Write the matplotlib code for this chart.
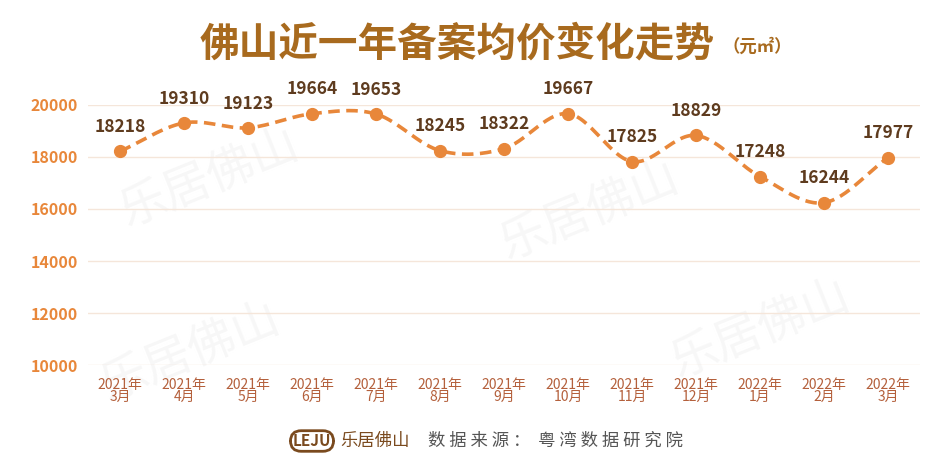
import matplotlib
matplotlib.use('Agg')
import matplotlib.pyplot as plt
import numpy as np

plt.rcParams['font.family'] = ['Noto Sans CJK SC', 'DejaVu Sans']

# data
months = ['2021年\n3月', '2021年\n4月', '2021年\n5月', '2021年\n6月', '2021年\n7月',
          '2021年\n8月', '2021年\n9月', '2021年\n10月', '2021年\n11月', '2021年\n12月',
          '2022年\n1月', '2022年\n2月', '2022年\n3月']
prices = [18218, 19310, 19123, 19664, 19653, 18245, 18322, 19667, 17825, 18829,
          17248, 16244, 17977]
y_ticks = [10000, 12000, 14000, 16000, 18000, 20000]

ORANGE = '#E8873A'
TITLE_BROWN = '#A86A1E'
LABEL_BROWN = '#5E3B1E'
XTICK_COLOR = '#B4603C'
GRID = '#F5E6DA'


def catmull_rom(x, y, n=30):
    """Smooth curve through the points (like office 'smoothed line')."""
    px = np.concatenate([[2 * x[0] - x[1]], x, [2 * x[-1] - x[-2]]])
    py = np.concatenate([[2 * y[0] - y[1]], y, [2 * y[-1] - y[-2]]])
    xs, ys = [], []
    t = np.linspace(0, 1, n, endpoint=False)
    for i in range(1, len(px) - 2):
        for arr, out in ((px, xs), (py, ys)):
            p0, p1, p2, p3 = arr[i - 1], arr[i], arr[i + 1], arr[i + 2]
            out.extend(0.5 * (2 * p1 + (-p0 + p2) * t
                              + (2 * p0 - 5 * p1 + 4 * p2 - p3) * t ** 2
                              + (-p0 + 3 * p1 - 3 * p2 + p3) * t ** 3))
    xs.append(x[-1])
    ys.append(y[-1])
    return np.array(xs), np.array(ys)


fig = plt.figure(figsize=(9.5, 4.7), dpi=100)
fig.patch.set_facecolor('white')

# faint watermarks, kept behind everything
for (wx, wy, s) in [(0.22, 0.62, '乐居佛山'), (0.62, 0.55, '乐居佛山'),
                    (0.2, 0.25, '乐居佛山'), (0.8, 0.3, '乐居佛山')]:
    fig.text(wx, wy, s, fontsize=34, color='#F7F7F7', rotation=22,
             ha='center', va='center', zorder=-5)

ax = fig.add_axes([88 / 950, 1 - 365 / 470, (920 - 88) / 950, 260 / 470])
ax.set_facecolor('none')
x = np.arange(len(prices))
ax.set_xlim(-0.5, len(prices) - 0.5)
ax.set_ylim(10000, 20000)

sx, sy = catmull_rom(x.astype(float), np.array(prices, dtype=float))
ax.plot(sx, sy, color=ORANGE, lw=2.6, ls=(0, (3.2, 1.8)), clip_on=False, zorder=3)
ax.plot(x, prices, 'o', color=ORANGE, ms=8.5, clip_on=False, zorder=4)

for xi, v in zip(x, prices):
    ax.annotate(f'{v}', (xi, v), xytext=(0, 11), textcoords='offset points',
                ha='center', va='bottom', fontsize=12.5, fontweight='bold',
                color=LABEL_BROWN, zorder=5)

ax.set_yticks(y_ticks)
ax.set_yticklabels([str(t) for t in y_ticks], fontsize=11.5, fontweight='bold', color=ORANGE)
ax.set_xticks(x)
ax.set_xticklabels(months, fontsize=10, color=XTICK_COLOR, linespacing=0.9)
ax.tick_params(length=0, pad=7)
ax.tick_params(axis='x', pad=9)
ax.grid(True, axis='y', color=GRID, lw=1)
ax.set_axisbelow(True)
for sp in ax.spines.values():
    sp.set_visible(False)

# title
fig.text(457 / 950, 1 - 44 / 470, '佛山近一年备案均价变化走势', fontsize=28.5, fontweight='bold',
         color=TITLE_BROWN, ha='center', va='center')
fig.text(722 / 950, 1 - 47 / 470, '（元㎡）', fontsize=12.5, fontweight='bold',
         color=TITLE_BROWN, ha='left', va='center')

# footer
fig.text(312 / 950, 1 - 441 / 470, 'LEJU', fontsize=11, fontweight='bold', color='#7A4A1E',
         ha='center', va='center',
         bbox=dict(boxstyle='round,pad=0.15,rounding_size=0.7', fc='none', ec='#7A4A1E', lw=2))
fig.text(340 / 950, 1 - 441 / 470, '乐居佛山', fontsize=12.5, color='#7A4A1E',
         ha='left', va='center')
fig.text(428 / 950, 1 - 441 / 470, '数 据 来 源 ：  粤 湾 数 据 研 究 院', fontsize=12.5,
         color='#555555', ha='left', va='center')

fig.savefig('out.png', dpi=100, facecolor='white')
